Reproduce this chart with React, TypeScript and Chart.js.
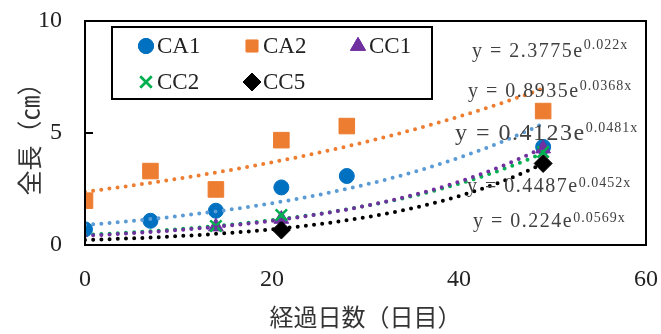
import React, { useEffect, useRef } from "react";
import { Chart, registerables } from "chart.js";
import { drawPoint } from "chart.js/helpers";

Chart.register(...registerables);

// Measured total length (cm) by day since start, per group
const seriesNames = ["CA1", "CA2", "CC1", "CC2", "CC5"];
const ca1Days = [0, 7, 14, 21, 28, 49];
const ca1Length = [0.7, 1.08, 1.53, 2.57, 3.08, 4.38];
const ca2Days = [0, 7, 14, 21, 28, 49];
const ca2Length = [1.98, 3.3, 2.48, 4.68, 5.31, 5.98];
const cc1Days = [14, 21, 49];
const cc1Length = [0.82, 1.16, 4.3];
const cc2Days = [14, 21, 49];
const cc2Length = [0.85, 1.34, 4.15];
const cc5Days = [21, 49];
const cc5Length = [0.67, 3.64];

// Exponential trend coefficients y = a * e^(b x)
const trendA = [0.8935, 2.3775, 0.4123, 0.4487, 0.224];
const trendB = [0.0368, 0.022, 0.0481, 0.0452, 0.0569];
const trendStart = 0;
const trendEnd = 49;

const xTicks = [0, 20, 40, 60];
const yTicks = [0, 5, 10];

const markerColors = ["#0070C0", "#ED7D31", "#7030A0", "#00B050", "#000000"];
const trendColors = ["#5B9BD5", "#ED7D31", "#7030A0", "#00B050", "#000000"];
const markerStyles = ["circle", "rect", "triangle", "crossRot", "rectRot"];
const markerRadius = [7.5, 11, 8.5, 8, 9];

const SERIF = "'Liberation Serif', 'Noto Sans CJK JP', serif";
const TEXT = "#404040";

const daysList = [ca1Days, ca2Days, cc1Days, cc2Days, cc5Days];
const lengthList = [ca1Length, ca2Length, cc1Length, cc2Length, cc5Length];

function trendPoints(a: number, b: number) {
  const pts: { x: number; y: number }[] = [];
  for (let x = trendStart; x <= trendEnd + 1e-9; x += 0.5) {
    pts.push({ x, y: a * Math.exp(b * x) });
  }
  return pts;
}

// Where each fitted equation is written: [left, baseline, main size, sup rise]
const eqPlacement: [number, number, number, number][] = [
  [472, 57, 20, 8],
  [468, 97, 20, 7],
  [455, 140, 24, 8],
  [467, 192, 20, 5],
  [473, 227, 20, 5],
];
// Series shown in each equation row, top to bottom
const eqSeriesOrder = [1, 0, 2, 3, 4];

const legendSlots: [number, number][] = [
  [146, 46],
  [252, 46],
  [358, 46],
  [146, 82],
  [252, 82],
];

const notesPlugin = {
  id: "frameAndNotes",
  afterDraw(chart: any) {
    const { ctx, chartArea } = chart;
    const yScale = chart.scales.y;
    ctx.save();

    // plot frame
    ctx.strokeStyle = "#000";
    ctx.lineWidth = 2;
    ctx.strokeRect(chartArea.left, chartArea.top, chartArea.right - chartArea.left, chartArea.bottom - chartArea.top);

    // inward major tick marks on the value axis
    for (const v of yTicks) {
      const py = Math.round(yScale.getPixelForValue(v));
      ctx.beginPath();
      ctx.moveTo(chartArea.left, py);
      ctx.lineTo(chartArea.left + 8, py);
      ctx.stroke();
    }

    // legend box
    ctx.fillStyle = "#fff";
    ctx.fillRect(112, 27, 320, 72);
    ctx.strokeRect(112, 27, 320, 72);
    ctx.textBaseline = "middle";
    ctx.textAlign = "left";
    ctx.font = `23px ${SERIF}`;
    seriesNames.forEach((name, i) => {
      const [lx, ly] = legendSlots[i];
      const isCross = markerStyles[i] === "crossRot";
      ctx.fillStyle = markerColors[i];
      ctx.strokeStyle = markerColors[i];
      ctx.lineWidth = isCross ? 2.5 : 1;
      drawPoint(ctx, { pointStyle: markerStyles[i], radius: markerRadius[i] * (i === 1 ? 0.75 : 1), borderWidth: ctx.lineWidth, rotation: 0 } as any, lx, ly);
      if (!isCross) ctx.fill();
      ctx.stroke();
      ctx.fillStyle = "#222";
      ctx.fillText(name, lx + 11, ly + 1);
    });

    // fitted equations
    ctx.fillStyle = TEXT;
    ctx.textBaseline = "alphabetic";
    eqSeriesOrder.forEach((s, k) => {
      const [ex, ey, size, rise] = eqPlacement[k];
      const main = `y = ${trendA[s]}e`;
      const sup = `${trendB[s]}x`;
      ctx.font = `${size}px ${SERIF}`;
      (ctx as any).letterSpacing = "1.5px";
      ctx.fillText(main, ex, ey);
      const w = ctx.measureText(main).width;
      ctx.font = `14px ${SERIF}`;
      (ctx as any).letterSpacing = "1px";
      ctx.fillText(sup, ex + w, ey - rise);
    });
    (ctx as any).letterSpacing = "0px";
    ctx.restore();
  },
};

export default function App() {
  const canvasRef = useRef<HTMLCanvasElement | null>(null);

  useEffect(() => {
    if (!canvasRef.current) return;

    const trendSets = seriesNames.map((name, i) => ({
      type: "line" as const,
      label: `${name} trend`,
      data: trendPoints(trendA[i], trendB[i]),
      borderColor: trendColors[i],
      borderWidth: 4,
      borderDash: [0, 8.2],
      borderCapStyle: "round" as const,
      pointRadius: 0,
      fill: false,
      tension: 0,
      order: 1,
    }));

    const markerSets = seriesNames.map((name, i) => ({
      type: "scatter" as const,
      label: name,
      data: daysList[i].map((d, j) => ({ x: d, y: lengthList[i][j] })),
      pointStyle: markerStyles[i],
      pointRadius: markerRadius[i],
      backgroundColor: markerColors[i],
      borderColor: markerColors[i],
      pointBorderWidth: markerStyles[i] === "crossRot" ? 2.5 : 1,
      showLine: false,
      order: 10 - i,
    }));

    const chart = new Chart(canvasRef.current, {
      type: "scatter",
      data: { datasets: [...markerSets, ...trendSets] as any },
      options: {
        animation: false,
        responsive: true,
        maintainAspectRatio: false,
        layout: { autoPadding: false, padding: { top: 21, right: 15, left: 0, bottom: 0 } },
        plugins: { legend: { display: false }, tooltip: { enabled: false } },
        scales: {
          x: {
            type: "linear",
            min: xTicks[0],
            max: xTicks[xTicks.length - 1],
            afterBuildTicks: (s: any) => {
              s.ticks = xTicks.map((v) => ({ value: v }));
            },
            afterFit: (s: any) => {
              s.height = 89;
              s.paddingLeft = 0;
              s.paddingRight = 0;
            },
            grid: { display: false, drawTicks: false },
            border: { display: false },
            ticks: { color: "#222", font: { family: SERIF, size: 24 }, padding: 20, maxRotation: 0 },
            title: {
              display: true,
              text: "経過日数（日目）",
              color: "#333",
              font: { family: SERIF, size: 24, lineHeight: 1 },
              padding: { top: 0, bottom: 2 },
            },
          },
          y: {
            type: "linear",
            min: yTicks[0],
            max: yTicks[yTicks.length - 1],
            afterBuildTicks: (s: any) => {
              s.ticks = yTicks.map((v) => ({ value: v }));
            },
            afterFit: (s: any) => {
              s.width = 85;
              s.paddingTop = 0;
              s.paddingBottom = 0;
            },
            grid: { display: false, drawTicks: false },
            border: { display: false },
            ticks: { color: "#222", font: { family: SERIF, size: 24 }, padding: 23 },
            title: {
              display: true,
              text: "全長（㎝）",
              color: "#333",
              font: { family: SERIF, size: 25 },
              padding: { top: 17, bottom: 0 },
            },
          },
        },
      },
      plugins: [notesPlugin],
    });

    return () => chart.destroy();
  }, []);

  return (
    <div style={{ position: "fixed", left: 0, top: 0, width: 661, height: 334, background: "#fff" }}>
      <canvas ref={canvasRef} />
    </div>
  );
}
